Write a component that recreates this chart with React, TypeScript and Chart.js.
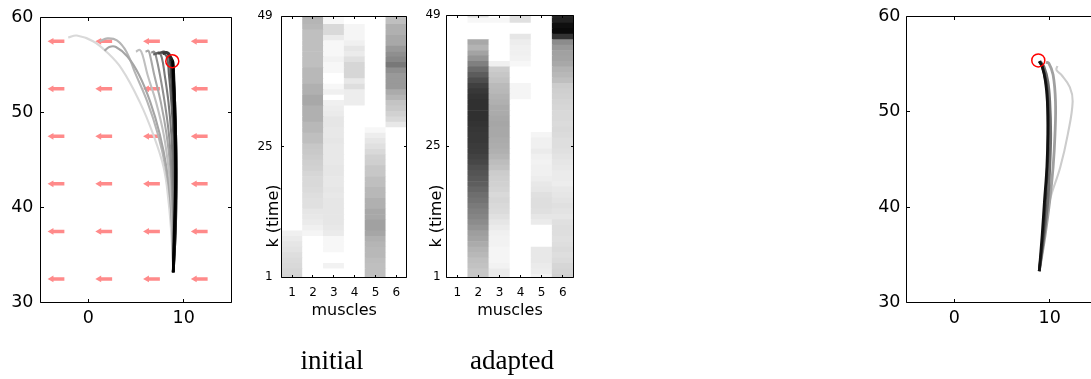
import React, { useEffect, useRef } from 'react';
import { Chart, registerables } from 'chart.js';

Chart.register(...registerables);

// ---------------- data ----------------
const armXTicks = [0, 10];
const armYTicks = [30, 40, 50, 60];
const muscleLabels = ['1', '2', '3', '4', '5', '6'];
const timeTicks = [1, 25, 49];
const timeSteps = Array.from({ length: 49 }, (_, i) => i + 1);

// muscle activations (0 = none, 1 = max), index 0 = k 1
const initialM1 = [0.17, 0.16, 0.15, 0.14, 0.13, 0.11, 0.1, 0.08, 0.06, 0, 0, 0, 0, 0, 0, 0, 0, 0, 0, 0, 0, 0, 0, 0, 0, 0, 0, 0, 0, 0, 0, 0, 0, 0, 0, 0, 0, 0, 0, 0, 0, 0, 0, 0, 0, 0, 0, 0, 0];
const initialM2 = [0, 0, 0, 0, 0, 0, 0, 0, 0.04, 0.06, 0.08, 0.09, 0.1, 0.12, 0.12, 0.13, 0.14, 0.15, 0.15, 0.16, 0.18, 0.19, 0.2, 0.21, 0.22, 0.25, 0.25, 0.28, 0.28, 0.31, 0.31, 0.31, 0.34, 0.34, 0.31, 0.31, 0.28, 0.28, 0.28, 0.25, 0.25, 0.25, 0.25, 0.25, 0.25, 0.25, 0.28, 0.29, 0.31];
const initialM3 = [0, 0, 0.05, 0, 0, 0.03, 0.03, 0.03, 0.08, 0.09, 0.1, 0.1, 0.1, 0.1, 0.1, 0.09, 0.1, 0.09, 0.09, 0.1, 0.1, 0.09, 0.09, 0.09, 0.09, 0.1, 0.09, 0.09, 0.1, 0.1, 0.08, 0.07, 0.06, 0, 0.06, 0.03, 0, 0, 0.03, 0.03, 0.05, 0.03, 0.03, 0.03, 0.08, 0.15, 0.15, 0.03, 0.03];
const initialM4 = [0, 0, 0, 0, 0, 0, 0, 0, 0, 0, 0, 0, 0, 0, 0, 0, 0, 0, 0, 0, 0, 0, 0, 0, 0, 0, 0, 0, 0, 0, 0, 0, 0.07, 0.07, 0.07, 0.13, 0.09, 0.16, 0.16, 0.16, 0.12, 0.08, 0.1, 0.06, 0.04, 0.04, 0.04, 0, 0];
const initialM5 = [0.25, 0.25, 0.25, 0.26, 0.28, 0.28, 0.29, 0.31, 0.35, 0.37, 0.37, 0.34, 0.34, 0.31, 0.31, 0.28, 0.28, 0.25, 0.25, 0.22, 0.22, 0.19, 0.18, 0.15, 0.12, 0.1, 0.07, 0.03, 0, 0, 0, 0, 0, 0, 0, 0, 0, 0, 0, 0, 0, 0, 0, 0, 0, 0, 0, 0, 0];
const initialM6 = [0, 0, 0, 0, 0, 0, 0, 0, 0, 0, 0, 0, 0, 0, 0, 0, 0, 0, 0, 0, 0, 0, 0, 0, 0, 0, 0, 0, 0.09, 0.15, 0.18, 0.21, 0.23, 0.29, 0.33, 0.4, 0.4, 0.4, 0.44, 0.53, 0.47, 0.44, 0.4, 0.34, 0.34, 0.31, 0.31, 0.25, 0.25];

const adaptedM1 = [0, 0, 0, 0, 0, 0, 0, 0, 0, 0, 0, 0, 0, 0, 0, 0, 0, 0, 0, 0, 0, 0, 0, 0, 0, 0, 0, 0, 0, 0, 0, 0, 0, 0, 0, 0, 0, 0, 0, 0, 0, 0, 0, 0, 0, 0, 0, 0, 0];
const adaptedM2 = [0.22, 0.22, 0.24, 0.25, 0.28, 0.3, 0.33, 0.36, 0.38, 0.42, 0.45, 0.48, 0.5, 0.52, 0.55, 0.57, 0.6, 0.63, 0.65, 0.67, 0.69, 0.72, 0.74, 0.76, 0.77, 0.78, 0.78, 0.79, 0.8, 0.81, 0.81, 0.81, 0.81, 0.8, 0.78, 0.75, 0.7, 0.64, 0.58, 0.5, 0.42, 0.36, 0.3, 0.34, 0, 0, 0, 0.03, 0.12];
const adaptedM3 = [0.08, 0.08, 0.05, 0.04, 0.04, 0.04, 0.05, 0.05, 0.06, 0.08, 0.1, 0.12, 0.14, 0.15, 0.16, 0.15, 0.17, 0.18, 0.19, 0.2, 0.24, 0.26, 0.29, 0.31, 0.32, 0.33, 0.34, 0.34, 0.35, 0.34, 0.33, 0.33, 0.31, 0.3, 0.28, 0.27, 0.24, 0.22, 0.2, 0.06, 0, 0, 0, 0, 0, 0, 0, 0.03, 0];
const adaptedM4 = [0, 0, 0, 0, 0, 0, 0, 0, 0, 0, 0, 0, 0, 0, 0, 0, 0, 0, 0, 0, 0, 0, 0, 0, 0, 0, 0, 0, 0, 0, 0, 0, 0, 0.04, 0.04, 0.04, 0, 0, 0, 0.03, 0.05, 0.06, 0.06, 0.07, 0.1, 0, 0, 0.12, 0.12];
const adaptedM5 = [0.05, 0.07, 0.08, 0.09, 0.09, 0.09, 0, 0, 0, 0, 0.08, 0.1, 0.12, 0.13, 0.13, 0.12, 0.1, 0.09, 0.07, 0.06, 0.06, 0.05, 0.06, 0.08, 0.06, 0.06, 0.04, 0, 0, 0, 0, 0, 0, 0, 0, 0, 0, 0, 0, 0, 0, 0, 0, 0, 0, 0, 0, 0, 0];
const adaptedM6 = [0.18, 0.17, 0.16, 0.14, 0.13, 0.14, 0.13, 0.12, 0.13, 0.13, 0.12, 0.1, 0.11, 0.12, 0.11, 0.1, 0.09, 0.07, 0.08, 0.08, 0.09, 0.1, 0.11, 0.12, 0.13, 0.13, 0.14, 0.15, 0.14, 0.15, 0.15, 0.16, 0.17, 0.18, 0.19, 0.2, 0.25, 0.28, 0.3, 0.34, 0.36, 0.37, 0.4, 0.45, 0.8, 0.96, 0.94, 0.87, 0.85];

// reach target
const targetPoint = [8.8, 55.4];

// force field (arrows point left)
const fieldX = [-2.5, 2.5, 7.5, 12.5];
const fieldY = [32.5, 37.5, 42.5, 47.5, 52.5, 57.5];
const fieldU = -1.35;

// hand paths, initial trials (light = early, dark = late)
const trialsBefore = [
  [[8.9, 33.2], [8.7, 37.2], [8.4, 40.7], [7.9, 44.2], [6.8, 47.7], [5.4, 51.1], [3.5, 54.6], [1.9, 56.4], [0.5, 57.5], [-1.2, 58.1], [-2.1, 57.9]],
  [[8.9, 33.2], [8.8, 37.2], [8.6, 40.7], [8.1, 44.2], [7.3, 47.7], [6.2, 51.1], [4.9, 54.2], [4.0, 56.4], [3.0, 57.6], [2.0, 57.8], [1.2, 57.5]],
  [[8.9, 33.2], [8.8, 37.2], [8.6, 40.7], [8.2, 44.2], [7.5, 47.7], [6.5, 51.1], [5.3, 54.0], [4.1, 55.9], [2.9, 56.9], [2.2, 56.9], [1.7, 56.5]],
  [[8.9, 33.2], [8.85, 37.2], [8.7, 40.7], [8.4, 44.2], [7.9, 47.7], [7.1, 51.1], [6.2, 54.0], [5.7, 56.0], [5.4, 56.6], [5.0, 56.4]],
  [[8.9, 33.2], [8.9, 37.2], [8.8, 40.7], [8.6, 44.2], [8.2, 47.7], [7.6, 51.1], [6.9, 54.0], [6.5, 55.9], [6.3, 56.5], [6.0, 56.4]],
  [[8.9, 33.2], [8.9, 37.2], [8.85, 40.7], [8.7, 44.2], [8.45, 47.7], [8.0, 51.1], [7.5, 54.0], [7.1, 55.9], [6.9, 56.4], [6.6, 56.3]],
  [[8.9, 33.2], [8.95, 37.2], [8.95, 40.7], [8.85, 44.2], [8.7, 47.7], [8.4, 51.1], [8.0, 54.0], [7.7, 55.8], [7.4, 56.3], [7.0, 56.1]],
  [[8.9, 33.2], [9.0, 37.2], [9.05, 40.7], [9.0, 44.2], [8.9, 47.7], [8.7, 51.1], [8.45, 54.0], [8.2, 55.9], [7.6, 56.3], [6.8, 56.1]],
  [[8.9, 33.2], [9.05, 37.2], [9.1, 40.7], [9.1, 44.2], [9.0, 47.7], [8.85, 51.1], [8.65, 54.0], [8.45, 55.9], [8.0, 56.4], [7.3, 56.2]],
  [[8.9, 33.2], [9.1, 37.2], [9.15, 40.7], [9.15, 44.2], [9.1, 47.7], [9.0, 51.1], [8.8, 54.0], [8.6, 55.8], [8.3, 56.3], [7.8, 56.2]],
  [[8.9, 33.2], [9.1, 37.2], [9.2, 40.7], [9.2, 44.2], [9.15, 47.7], [9.05, 51.1], [8.9, 54.0], [8.75, 55.6], [8.5, 56.0]],
  [[8.9, 33.2], [9.05, 37.2], [9.15, 40.7], [9.2, 44.2], [9.15, 47.7], [9.05, 51.1], [8.95, 54.0], [8.85, 55.4], [8.7, 55.6]],
  [[8.9, 33.2], [9.0, 37.2], [9.1, 40.7], [9.15, 44.2], [9.1, 47.7], [9.0, 51.1], [8.9, 54.0], [8.85, 55.3], [8.8, 55.4]],
];
const shadesBefore = ['#d9d9d9', '#b5b5b5', '#a5a5a5', '#c0c0c0', '#a8a8a8', '#909090', '#7a7a7a', '#626262', '#4c4c4c', '#383838', '#262626', '#141414', '#000000'];

// hand paths after adaptation
const trialsAfter = [
  [[8.9, 33.3], [9.4, 37.0], [10.0, 40.7], [11.1, 44.2], [11.9, 47.7], [12.4, 51.1], [12.1, 52.6], [11.2, 53.9], [10.7, 54.4], [10.8, 54.8]],
  [[8.9, 33.3], [9.5, 37.0], [10.0, 40.7], [10.35, 44.2], [10.55, 47.7], [10.6, 51.1], [10.35, 53.9], [9.9, 55.1], [9.6, 55.2]],
  [[8.9, 33.3], [9.4, 37.0], [9.8, 40.7], [10.0, 44.2], [10.1, 47.7], [10.0, 51.1], [9.8, 53.2], [9.4, 54.7], [9.0, 55.3]],
  [[8.9, 33.3], [9.3, 37.0], [9.55, 40.7], [9.75, 44.2], [9.85, 47.7], [9.8, 51.1], [9.6, 53.2], [9.2, 54.8], [8.9, 55.3]],
  [[8.9, 33.3], [9.2, 37.0], [9.45, 40.7], [9.7, 44.2], [9.8, 47.7], [9.75, 51.1], [9.55, 53.2], [9.2, 54.8], [8.9, 55.3]],
];
const shadesAfter = ['#cccccc', '#a0a0a0', '#6e6e6e', '#404040', '#111111'];

// ---------------- helpers ----------------
const SANS = "'DejaVu Sans', 'Liberation Sans', sans-serif";

const grayOf = (v: number) => {
  const g = Math.round(255 * (1 - v));
  return `rgb(${g},${g},${g})`;
};

const fixedTicks = (values: number[]) => (scale: any) => {
  scale.ticks = values.map((v) => ({ value: v }));
};

const boxPlugin = {
  id: 'boxFrame',
  afterDatasetsDraw(chart: any, _args: any, opts: any) {
    const { ctx, chartArea: a } = chart;
    const len = opts && opts.tickLength != null ? opts.tickLength : 3;
    const snap = (v: number) => Math.round(v - 0.5) + 0.5;
    const L = snap(a.left), R = snap(a.right), T = snap(a.top), B = snap(a.bottom);
    ctx.save();
    ctx.strokeStyle = '#000';
    ctx.lineWidth = 1;
    ctx.beginPath();
    ctx.rect(L, T, R - L, B - T);
    const xs = chart.scales.x;
    const ys = chart.scales.y;
    xs.ticks.forEach((_t: any, i: number) => {
      const p = snap(xs.getPixelForTick(i));
      ctx.moveTo(p, B); ctx.lineTo(p, B - len);
      ctx.moveTo(p, T); ctx.lineTo(p, T + len);
    });
    ys.ticks.forEach((_t: any, i: number) => {
      const p = snap(ys.getPixelForTick(i));
      ctx.moveTo(L, p); ctx.lineTo(L + len, p);
      ctx.moveTo(R, p); ctx.lineTo(R - len, p);
    });
    ctx.stroke();
    ctx.restore();
  },
};

function armConfig(trials: number[][][], shades: string[], withField: boolean, yPad: number): any {
  const datasets: any[] = [];
  datasets.push({
    data: [{ x: targetPoint[0], y: targetPoint[1] }],
    showLine: false,
    pointRadius: 6.5,
    pointBorderWidth: 1.5,
    pointBorderColor: '#ff0000',
    pointBackgroundColor: 'rgba(0,0,0,0)',
    order: 0,
  });
  trials.forEach((t, i) => {
    datasets.push({
      data: t.map(([x, y]) => ({ x, y })),
      showLine: true,
      borderColor: shades[i],
      borderWidth: i >= trials.length - 4 ? 2.8 : 2.1,
      pointRadius: 0,
      tension: 0.4,
      order: 100 - i,
    });
  });
  if (withField) {
    fieldY.forEach((fy) => {
      fieldX.forEach((fx) => {
        datasets.push({
          data: [{ x: fx, y: fy }, { x: fx + fieldU, y: fy }],
          showLine: true,
          borderColor: '#ff8a8a',
          borderWidth: 3.5,
          pointRadius: [0, 3.9],
          pointStyle: 'triangle',
          rotation: 270,
          pointBackgroundColor: '#ff8a8a',
          pointBorderWidth: 0,
          order: 200,
        });
      });
    });
  }
  return {
    type: 'scatter',
    data: { datasets },
    options: {
      responsive: false,
      animation: false,
      devicePixelRatio: 1,
      events: [],
      layout: { padding: { left: 0, top: 15, right: 13.5, bottom: 0 } },
      scales: {
        x: {
          type: 'linear', min: -5, max: 15,
          afterBuildTicks: fixedTicks(armXTicks),
          afterFit: (s: any) => { s.height = 27.3; },
          grid: { display: false, drawTicks: false },
          border: { display: false },
          ticks: { color: '#000', font: { family: SANS, size: 17.5 }, padding: 5, maxRotation: 0, autoSkip: false, callback: (v: any) => String(v) },
        },
        y: {
          type: 'linear', min: 30, max: 60,
          afterBuildTicks: fixedTicks(armYTicks),
          afterFit: (s: any) => { s.width = 40.5; },
          grid: { display: false, drawTicks: false },
          border: { display: false },
          ticks: { color: '#000', font: { family: SANS, size: 17.5 }, padding: yPad, autoSkip: false, callback: (v: any) => String(v) },
        },
      },
      plugins: { legend: { display: false }, tooltip: { enabled: false }, boxFrame: { tickLength: 3.5 } },
    },
    plugins: [boxPlugin],
  };
}

function heatConfig(cols: number[][], rightPad: number, yPad: number): any {
  const datasets = timeSteps.map((k, i) => ({
    data: cols.map(() => [k - 0.5, k + 0.5]),
    backgroundColor: cols.map((c) => grayOf(c[i])),
    grouped: false,
    barPercentage: 1,
    categoryPercentage: 1,
    borderWidth: 0,
    clip: 0,
  }));
  return {
    type: 'bar',
    data: { labels: muscleLabels, datasets },
    options: {
      responsive: false,
      animation: false,
      devicePixelRatio: 1,
      events: [],
      layout: { padding: { left: 0, top: 15, right: rightPad, bottom: 0 } },
      scales: {
        x: {
          type: 'category',
          afterFit: (s: any) => { s.height = 53; },
          grid: { display: false, drawTicks: false },
          border: { display: false },
          ticks: { color: '#000', font: { family: SANS, size: 12 }, padding: 9, maxRotation: 0, autoSkip: false },
          title: { display: true, text: 'muscles', color: '#000', font: { family: SANS, size: 16 }, padding: { top: 0, bottom: 9.4 } },
        },
        y: {
          type: 'linear', min: 1, max: 49,
          afterBuildTicks: fixedTicks(timeTicks),
          afterFit: (s: any) => { s.width = 41.7; },
          grid: { display: false, drawTicks: false },
          border: { display: false },
          ticks: { color: '#000', font: { family: SANS, size: 12 }, padding: yPad, autoSkip: false, callback: (v: any) => String(v) },
        },
      },
      plugins: { legend: { display: false }, tooltip: { enabled: false }, boxFrame: { tickLength: 2.5 } },
    },
    plugins: [boxPlugin],
  };
}

function ChartCanvas({ left, top, width, height, build }: { left: number; top: number; width: number; height: number; build: () => any }) {
  const ref = useRef<HTMLCanvasElement | null>(null);
  useEffect(() => {
    const chart = new Chart(ref.current as HTMLCanvasElement, build());
    return () => chart.destroy();
  }, []);
  return (
    <canvas
      ref={ref}
      width={width}
      height={height}
      style={{ position: 'absolute', left, top, width, height, display: 'block' }}
    />
  );
}

const captionStyle: React.CSSProperties = {
  position: 'absolute',
  top: 347,
  transform: 'translateX(-50%)',
  fontFamily: "'Liberation Serif', 'Times New Roman', serif",
  fontSize: 27,
  lineHeight: '27px',
  whiteSpace: 'nowrap',
  color: '#000',
};

const yLabelStyle: React.CSSProperties = {
  position: 'absolute',
  transform: 'translate(-50%, -50%) rotate(-90deg)',
  fontFamily: SANS,
  fontSize: 16,
  lineHeight: '16px',
  whiteSpace: 'nowrap',
  color: '#000',
};

export default function App() {
  return (
    <div style={{ position: 'fixed', left: 0, top: 0, width: 1091, height: 379, overflow: 'hidden', background: '#fff' }}>
      <ChartCanvas left={0} top={0} width={245} height={330} build={() => armConfig(trialsBefore, shadesBefore, true, 7)} />
      <ChartCanvas
        left={240} top={0} width={180} height={330}
        build={() => heatConfig([initialM1, initialM2, initialM3, initialM4, initialM5, initialM6], 13.3, 9)}
      />
      <ChartCanvas
        left={405} top={0} width={180} height={330}
        build={() => heatConfig([adaptedM1, adaptedM2, adaptedM3, adaptedM4, adaptedM5, adaptedM6], 11.7, 6)}
      />
      <ChartCanvas left={866} top={0} width={245} height={330} build={() => armConfig(trialsAfter, shadesAfter, false, 6)} />
      <div style={{ ...yLabelStyle, left: 272.5, top: 216 }}>k (time)</div>
      <div style={{ ...yLabelStyle, left: 436, top: 216 }}>k (time)</div>
      <div style={{ ...captionStyle, left: 332 }}>initial</div>
      <div style={{ ...captionStyle, left: 512 }}>adapted</div>
    </div>
  );
}
